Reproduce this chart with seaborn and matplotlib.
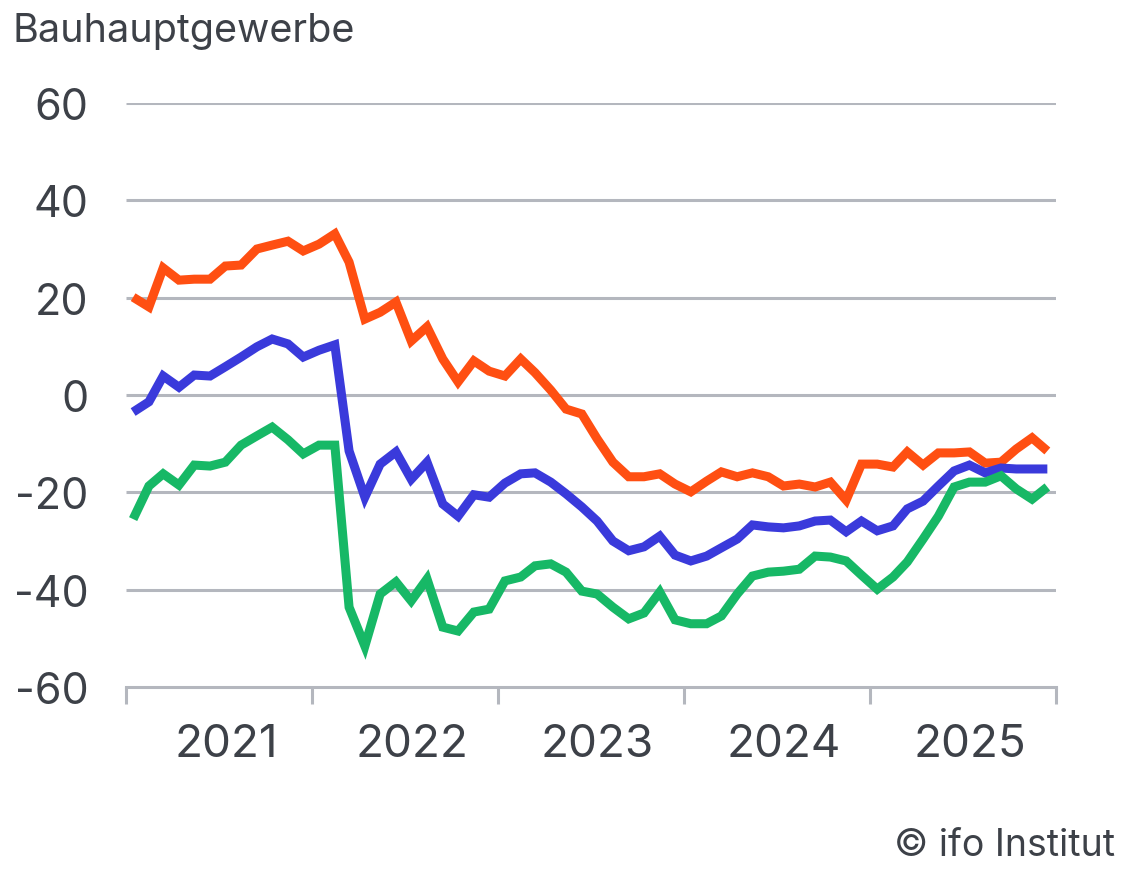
"""Recreate the ifo Bauhauptgewerbe business climate chart."""

import matplotlib

matplotlib.use("Agg")

import matplotlib.dates as mdates
import matplotlib.pyplot as plt
import pandas as pd
import seaborn as sns

# monthly values, Jan 2021 .. Dec 2025
lage = [
    20.1, 18.1, 26.1, 23.6, 23.8, 23.8, 26.5, 26.7, 30.0, 30.8, 31.6, 29.6,
    31.0, 33.1, 27.3, 15.6, 17.0, 19.1, 11.1, 14.0, 7.4, 2.7, 7.0, 4.9,
    3.9, 7.4, 4.6, 1.0, -2.9, -3.9, -9.0, -13.8, -16.8, -16.8, -16.2, -18.3,
    -19.9, -17.7, -15.8, -16.8, -16.0, -16.8, -18.7, -18.3, -18.9, -17.9, -21.6, -14.2,
    -14.2, -14.8, -11.7, -14.4, -11.9, -11.9, -11.7, -14.0, -13.8, -11.1, -8.8, -11.5,
]
klima = [
    -3.5, -1.4, 3.9, 1.6, 4.1, 3.9, 5.8, 7.8, 9.9, 11.5, 10.5, 7.8,
    9.2, 10.3, -11.5, -21.0, -14.2, -11.7, -17.3, -13.8, -22.4, -24.9, -20.5, -21.0,
    -18.1, -16.2, -16.0, -17.9, -20.3, -23.0, -25.9, -30.0, -32.0, -31.2, -29.0, -32.9,
    -34.1, -33.1, -31.4, -29.6, -26.7, -27.1, -27.3, -26.9, -25.9, -25.7, -28.1, -25.9,
    -27.9, -26.9, -23.4, -21.8, -18.7, -15.6, -14.4, -16.0, -15.0, -15.2, -15.2, -15.2,
]
erwartungen = [
    -25.5, -18.7, -16.2, -18.5, -14.4, -14.6, -13.8, -10.3, -8.4, -6.6, -9.2, -12.1,
    -10.3, -10.3, -43.6, -51.6, -40.9, -38.4, -42.3, -37.8, -47.7, -48.5, -44.6, -44.0,
    -38.2, -37.4, -35.1, -34.7, -36.4, -40.3, -40.9, -43.6, -46.0, -44.8, -40.5, -46.2,
    -47.0, -47.0, -45.4, -40.9, -37.2, -36.4, -36.2, -35.8, -33.1, -33.3, -34.1, -37.0,
    -39.9, -37.4, -34.3, -29.6, -24.9, -18.9, -17.9, -17.9, -16.6, -19.3, -21.4, -18.9,
]
years = ["2021", "2022", "2023", "2024", "2025"]
y_ticks = [-60, -40, -20, 0, 20, 40, 60]

COLORS = {
    "Geschäftslage": "#ff4f12",
    "Geschäftsklima": "#3a3adb",
    "Geschäftserwartungen": "#17b866",
}
TEXT = "#3d4148"
GRID = "#b4b7be"


def build_frame() -> pd.DataFrame:
    months = pd.date_range("2021-01-01", periods=len(lage), freq="MS") + pd.Timedelta(days=14)
    frames = []
    for name, values in [
        ("Geschäftslage", lage),
        ("Geschäftsklima", klima),
        ("Geschäftserwartungen", erwartungen),
    ]:
        frames.append(pd.DataFrame({"Monat": months, "Saldo": values, "Reihe": name}))
    return pd.concat(frames, ignore_index=True)


def main() -> None:
    sns.set_theme(style="white")
    plt.rcParams["font.family"] = ["Inter", "DejaVu Sans"]
    plt.rcParams["axes.unicode_minus"] = False

    data = build_frame()
    fig = plt.figure(figsize=(11.44, 8.87), dpi=100)
    ax = fig.add_axes([126 / 1144, 1 - 688 / 887, 930 / 1144, 584 / 887])

    for value in y_ticks[1:]:
        ax.axhline(value, color=GRID, linewidth=2.2, zorder=1)

    sns.lineplot(
        data=data,
        x="Monat",
        y="Saldo",
        hue="Reihe",
        palette=COLORS,
        linewidth=6.5,
        legend=False,
        ax=ax,
        zorder=3,
    )
    for line in ax.get_lines():
        line.set_solid_joinstyle("miter")
        line.set_solid_capstyle("butt")

    ax.set_ylim(-60, 60)
    ax.set_xlim(pd.Timestamp("2021-01-01"), pd.Timestamp("2026-01-01"))
    ax.set_yticks(y_ticks)
    ax.set_yticklabels([str(v) for v in y_ticks])
    ax.tick_params(axis="y", left=False, length=0, pad=27, labelsize=31, labelcolor=TEXT)

    ax.xaxis.set_major_locator(mdates.YearLocator())
    ax.xaxis.set_major_formatter(plt.NullFormatter())
    ax.set_xticks(
        [pd.Timestamp(f"{y}-07-16") for y in years], labels=years, minor=True
    )
    ax.tick_params(axis="x", which="major", bottom=True, length=12, width=2.2,
                   color=GRID, direction="out")
    ax.tick_params(axis="x", which="minor", bottom=True, length=0, pad=26,
                   labelsize=33, labelcolor=TEXT)

    for side in ["top", "right", "left"]:
        ax.spines[side].set_visible(False)
    ax.spines["bottom"].set_color(GRID)
    ax.spines["bottom"].set_linewidth(2.2)
    ax.set_xlabel("")
    ax.set_ylabel("")

    fig.text(12 / 1144, 1 - 32 / 887, "Bauhauptgewerbe", fontsize=28.5, color=TEXT,
             ha="left", va="center")
    fig.text(1115 / 1144, 1 - 846 / 887, "© ifo Institut", fontsize=27, color=TEXT,
             ha="right", va="center")

    fig.savefig("out.png", dpi=100)
    plt.close(fig)


if __name__ == "__main__":
    main()
